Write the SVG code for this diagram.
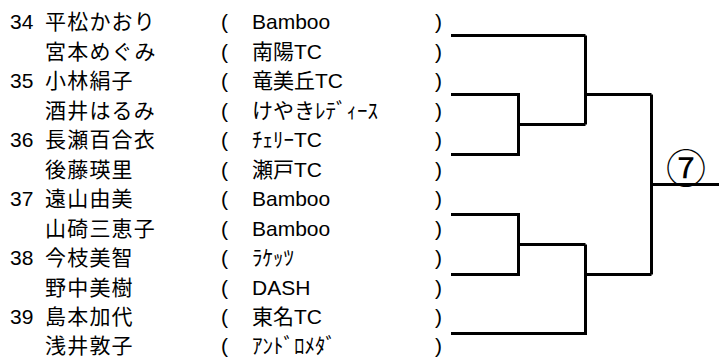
<svg xmlns="http://www.w3.org/2000/svg" width="719" height="359" viewBox="0 0 719 359">
<style>
  text { font-size: 21px; fill: #000; }
  .num { font-family: "Liberation Sans", Arial, sans-serif; }
  .name { font-family: "Noto Sans CJK JP", sans-serif; letter-spacing: 1.2px; }
  .par { font-family: "Liberation Sans", Arial, sans-serif; }
  .club { font-family: "Liberation Sans", "Noto Sans CJK JP", sans-serif; }
  .conn path { fill: none; stroke: #000; stroke-width: 3; stroke-linejoin: miter; stroke-linecap: butt; }
  .circ { font-family: "Noto Sans CJK JP", sans-serif; font-size: 40px; text-anchor: middle; }
</style>
<rect width="719" height="359" fill="#fff"/>
<g id="row-34a" transform="translate(0,29)">
  <text class="num" x="10" y="0">34</text><text class="name" x="45" y="0">平松かおり</text>
  <text class="par" x="221" y="0">(</text><text class="club" x="252" y="0">Bamboo</text><text class="par" x="435" y="0">)</text>
</g>
<g id="row-34b" transform="translate(0,58.5)">
  <text class="name" x="45" y="0">宮本めぐみ</text>
  <text class="par" x="221" y="0">(</text><text class="club" x="252" y="0">南陽TC</text><text class="par" x="435" y="0">)</text>
</g>
<g id="row-35a" transform="translate(0,88)">
  <text class="num" x="10" y="0">35</text><text class="name" x="45" y="0">小林絹子</text>
  <text class="par" x="221" y="0">(</text><text class="club" x="252" y="0">竜美丘TC</text><text class="par" x="435" y="0">)</text>
</g>
<g id="row-35b" transform="translate(0,117.5)">
  <text class="name" x="45" y="0">酒井はるみ</text>
  <text class="par" x="221" y="0">(</text><text class="club" x="252" y="0">けやきﾚﾃﾞｨｰｽ</text><text class="par" x="435" y="0">)</text>
</g>
<g id="row-36a" transform="translate(0,147)">
  <text class="num" x="10" y="0">36</text><text class="name" x="45" y="0">長瀬百合衣</text>
  <text class="par" x="221" y="0">(</text><text class="club" x="252" y="0">ﾁｪﾘｰTC</text><text class="par" x="435" y="0">)</text>
</g>
<g id="row-36b" transform="translate(0,176.5)">
  <text class="name" x="45" y="0">後藤瑛里</text>
  <text class="par" x="221" y="0">(</text><text class="club" x="252" y="0">瀬戸TC</text><text class="par" x="435" y="0">)</text>
</g>
<g id="row-37a" transform="translate(0,206)">
  <text class="num" x="10" y="0">37</text><text class="name" x="45" y="0">遠山由美</text>
  <text class="par" x="221" y="0">(</text><text class="club" x="252" y="0">Bamboo</text><text class="par" x="435" y="0">)</text>
</g>
<g id="row-37b" transform="translate(0,235.5)">
  <text class="name" x="45" y="0">山碕三恵子</text>
  <text class="par" x="221" y="0">(</text><text class="club" x="252" y="0">Bamboo</text><text class="par" x="435" y="0">)</text>
</g>
<g id="row-38a" transform="translate(0,265)">
  <text class="num" x="10" y="0">38</text><text class="name" x="45" y="0">今枝美智</text>
  <text class="par" x="221" y="0">(</text><text class="club" x="252" y="0">ﾗｹｯﾂ</text><text class="par" x="435" y="0">)</text>
</g>
<g id="row-38b" transform="translate(0,294.5)">
  <text class="name" x="45" y="0">野中美樹</text>
  <text class="par" x="221" y="0">(</text><text class="club" x="252" y="0">DASH</text><text class="par" x="435" y="0">)</text>
</g>
<g id="row-39a" transform="translate(0,324)">
  <text class="num" x="10" y="0">39</text><text class="name" x="45" y="0">島本加代</text>
  <text class="par" x="221" y="0">(</text><text class="club" x="252" y="0">東名TC</text><text class="par" x="435" y="0">)</text>
</g>
<g id="row-39b" transform="translate(0,352.5)">
  <text class="name" x="45" y="0">浅井敦子</text>
  <text class="par" x="221" y="0">(</text><text class="club" x="252" y="0">ｱﾝﾄﾞﾛﾒﾀﾞ</text><text class="par" x="435" y="0">)</text>
</g>
<g id="final-7">
  <text class="circ" x="686" y="183">⑦</text>
</g>
<g id="connectors" class="conn">
  <path d="M451 35.5 H585.5"/>
  <path d="M451 94.5 H518.5 V154.5 H451"/>
  <path d="M518.5 124.5 H585.5"/>
  <path d="M585.5 35.5 V124.5"/>
  <path d="M585.5 94.5 H651.5"/>
  <path d="M451 214.5 H518.5 V274.5 H451"/>
  <path d="M518.5 244.5 H585.5"/>
  <path d="M451 333.5 H585.5 V244.5"/>
  <path d="M585.5 274.5 H651.5"/>
  <path d="M651.5 94.5 V274.5"/>
  <path d="M651.5 184.5 H719"/>
</g>
</svg>
